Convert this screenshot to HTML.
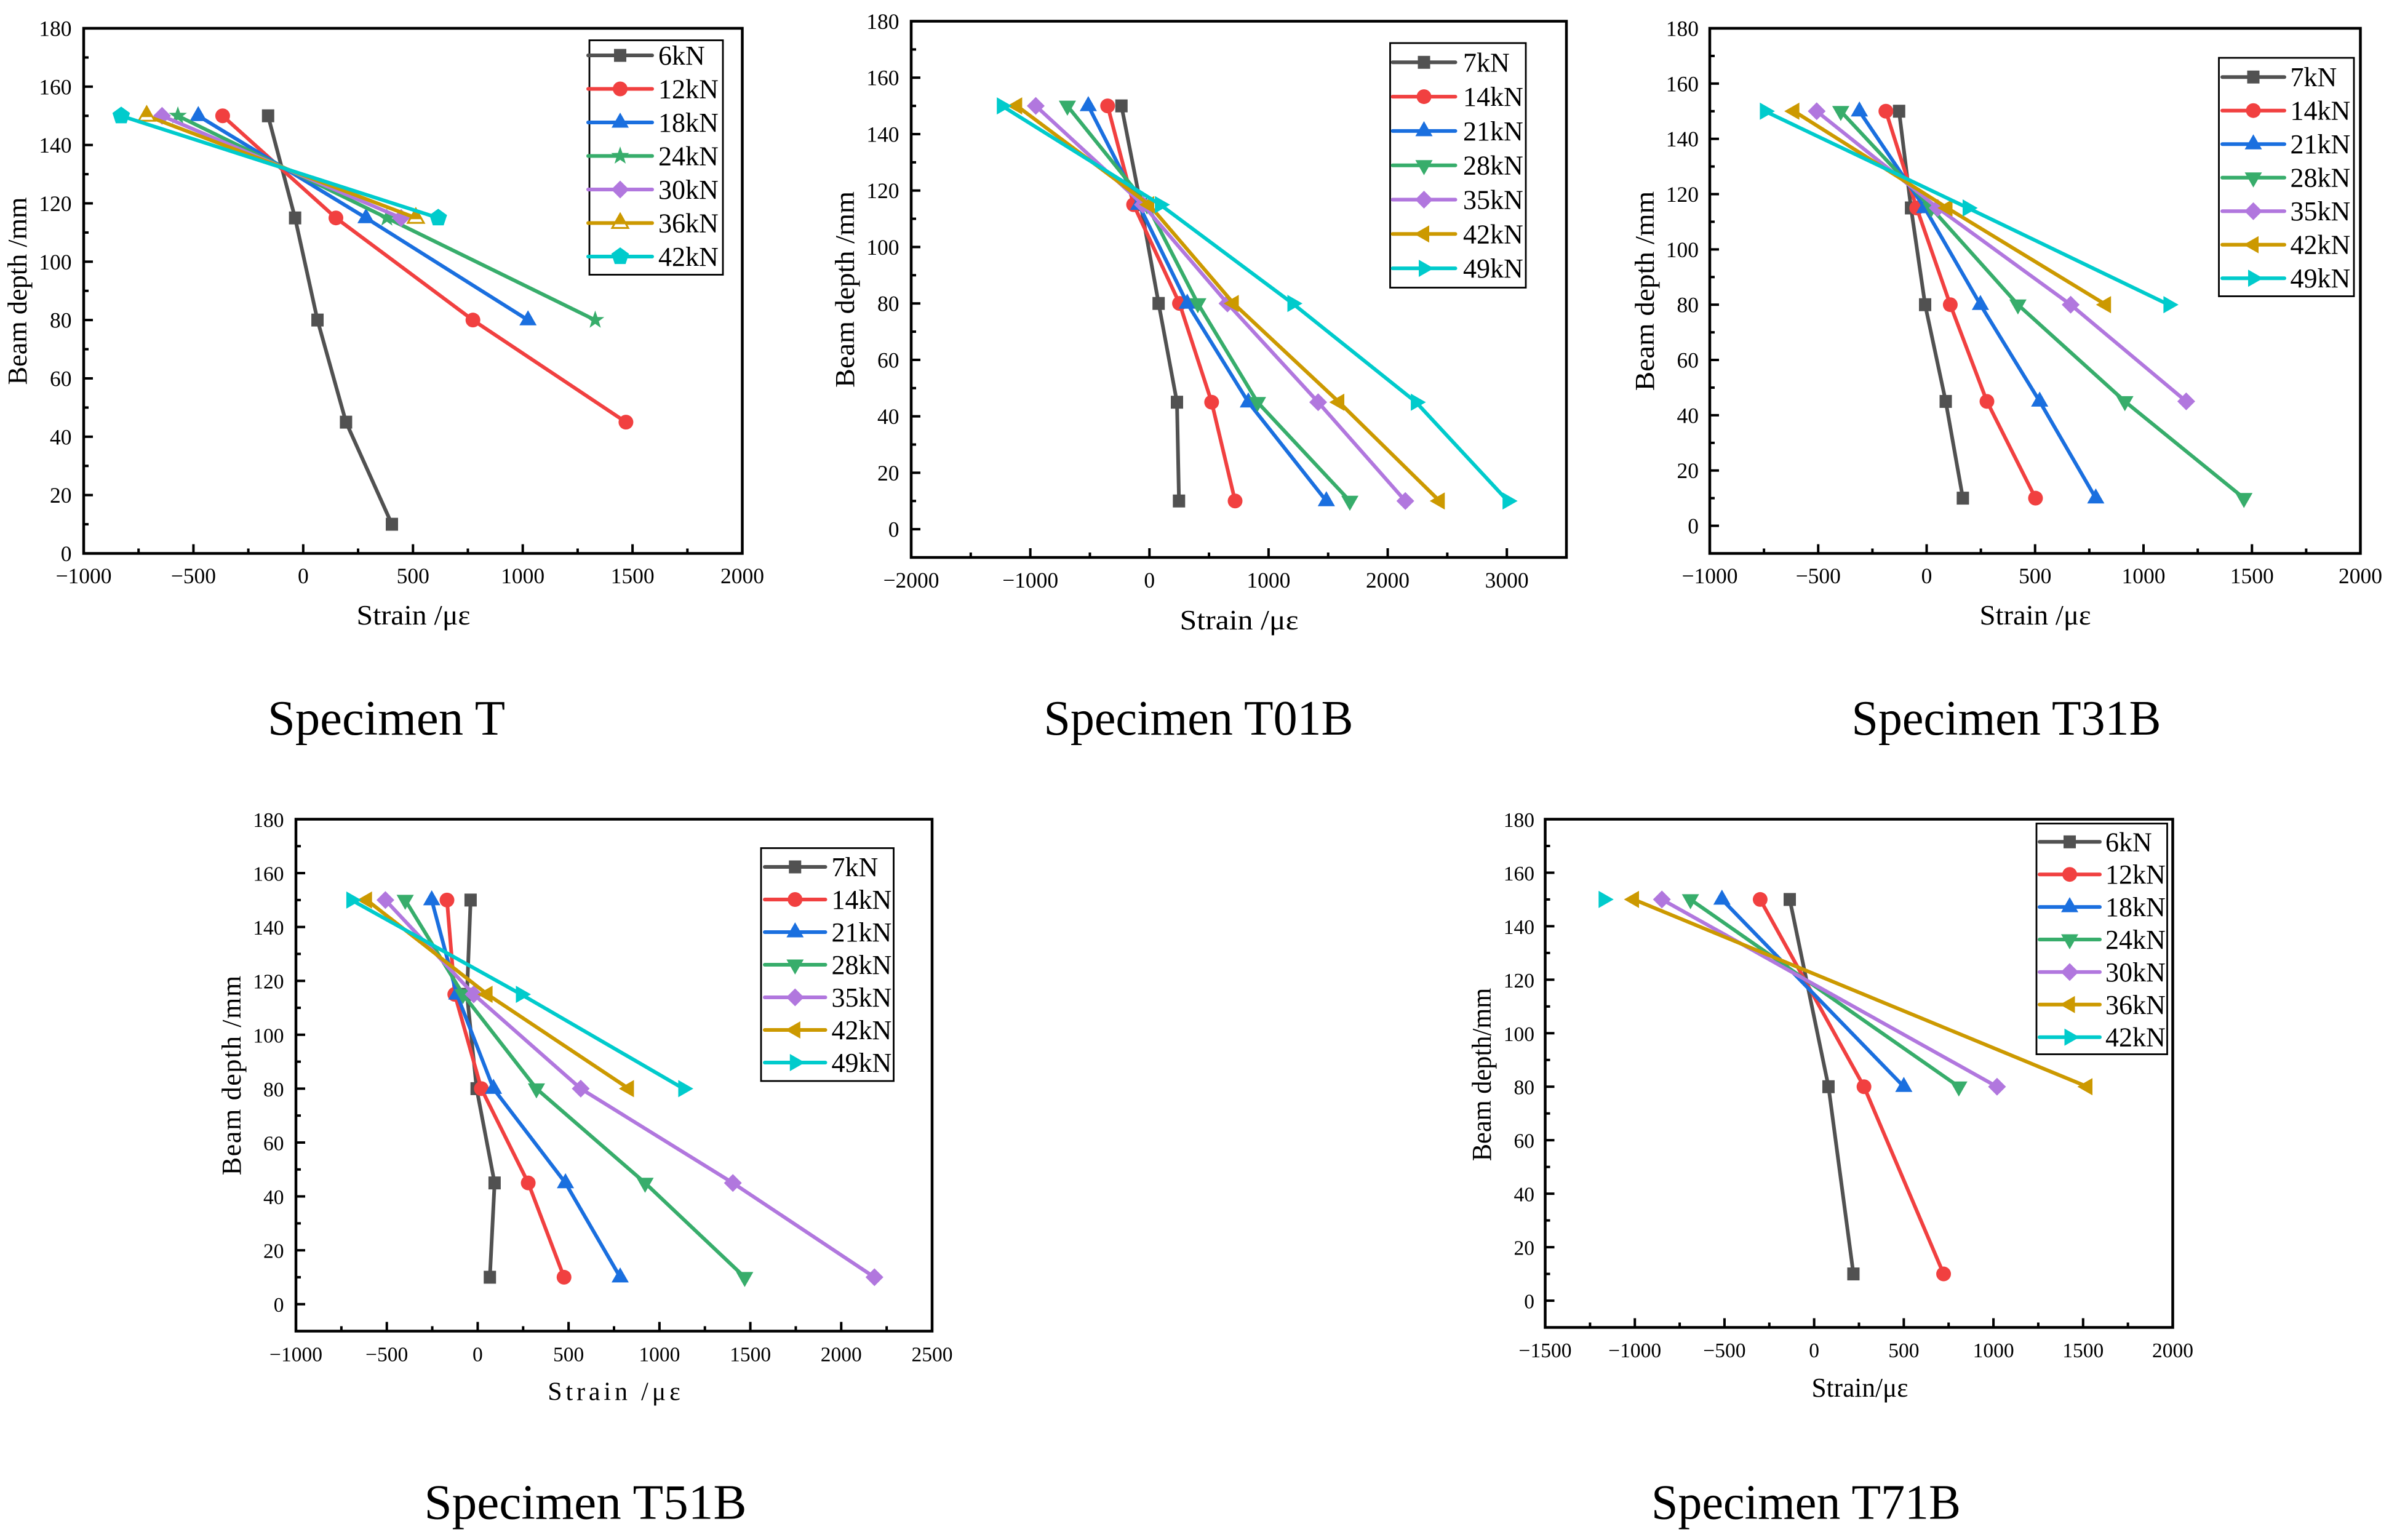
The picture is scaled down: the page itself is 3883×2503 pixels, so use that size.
<!DOCTYPE html>
<html lang="en">
<head>
<meta charset="utf-8">
<title>Strain distribution along beam depth</title>
<style>
html,body{margin:0;padding:0;background:#fff;}
svg{display:block;}
text{font-family:"Liberation Serif","DejaVu Serif",serif;fill:#000;}
</style>
</head>
<body>
<svg id="figure" xmlns="http://www.w3.org/2000/svg" width="3883" height="2503" viewBox="0 0 3883 2503"></svg>
<script>
/* Shared depths (mm) */
const depthLevels = [150, 115, 80, 45, 10];
const yTickLabels = [0, 20, 40, 60, 80, 100, 120, 140, 160, 180];

/* Specimen T */
const tLoads = ['6kN', '12kN', '18kN', '24kN', '30kN', '36kN', '42kN'];
const tStrain6 = [-160, -37, 65, 195, 404];
const tStrain12 = [-367, 149, 773, 1470];
const tStrain18 = [-478, 286, 1024];
const tStrain24 = [-571, 381, 1330];
const tStrain30 = [-643, 446];
const tStrain36 = [-713, 513];
const tStrain42 = [-829, 615];
const tXTicks = [-1000, -500, 0, 500, 1000, 1500, 2000];

/* Specimen T01B */
const t01Loads = ['7kN', '14kN', '21kN', '28kN', '35kN', '42kN', '49kN'];
const t01Strain7 = [-235, -73, 77, 231, 248];
const t01Strain14 = [-351, -133, 252, 522, 719];
const t01Strain21 = [-513, -90, 317, 830, 1485];
const t01Strain28 = [-689, -21, 406, 907, 1682];
const t01Strain35 = [-954, -55, 655, 1416, 2148];
const t01Strain42 = [-1112, -4, 706, 1592, 2435];
const t01Strain49 = [-1237, 90, 1202, 2238, 3008];
const t01XTicks = [-2000, -1000, 0, 1000, 2000, 3000];

/* Specimen T31B */
const t31Loads = ['7kN', '14kN', '21kN', '28kN', '35kN', '42kN', '49kN'];
const t31Strain7 = [-127, -72, -7, 88, 167];
const t31Strain14 = [-188, -46, 109, 278, 502];
const t31Strain21 = [-310, -9, 248, 521, 780];
const t31Strain28 = [-396, 21, 421, 914, 1463];
const t31Strain35 = [-507, 51, 664, 1197];
const t31Strain42 = [-611, 95, 826];
const t31Strain49 = [-745, 190, 1116];
const t31XTicks = [-1000, -500, 0, 500, 1000, 1500, 2000];

/* Specimen T51B */
const t51Loads = ['7kN', '14kN', '21kN', '28kN', '35kN', '42kN', '49kN'];
const t51Strain7 = [-39, -59, -6, 93, 67];
const t51Strain14 = [-169, -126, 20, 278, 475];
const t51Strain21 = [-253, -115, 87, 483, 784];
const t51Strain28 = [-399, -81, 323, 921, 1469];
const t51Strain35 = [-508, -22, 567, 1404, 2183];
const t51Strain42 = [-610, 53, 831];
const t51Strain49 = [-694, 239, 1132];
const t51XTicks = [-1000, -500, 0, 500, 1000, 1500, 2000, 2500];

/* Specimen T71B (only depths 150 / 80 / 10 were measured) */
const t71Depths = [150, 80, 10];
const t71Loads = ['6kN', '12kN', '18kN', '24kN', '30kN', '36kN', '42kN'];
const t71Strain6 = [-136, 80, 219];
const t71Strain12 = [-301, 278, 722];
const t71Strain18 = [-514, 500];
const t71Strain24 = [-690, 807];
const t71Strain30 = [-849, 1020];
const t71Strain36 = [-1006, 1523];
const t71Strain42 = [-1173];
const t71XTicks = [-1500, -1000, -500, 0, 500, 1000, 1500, 2000];

const seriesColors = ['#515151', '#F14040', '#1A6FDF', '#37AD6B', '#B177DE', '#CC9900', '#00CBCC'];
const markersA = ['square', 'circle', 'up', 'star', 'diamond', 'halfup', 'pentagon'];
const markersB = ['square', 'circle', 'up', 'down', 'diamond', 'left', 'right'];

const panels = [
  { id: 't', title: 'Specimen T', depths: depthLevels, loads: tLoads, markers: markersA,
    strains: [tStrain6, tStrain12, tStrain18, tStrain24, tStrain30, tStrain36, tStrain42],
    xTicks: tXTicks, xMin: -1000, xMax: 2000, yMin: 0, yMax: 180,
    box: [136, 46, 1206.5, 899.5], tickSize: 35.5, labelBase: 948, yLabelRight: 116.5,
    xTitle: 'Strain /με', xTitleSize: 46, xTitleAdjust: 'spacingAndGlyphs', xTitleAt: [672, 1015, 185], yTitle: 'Beam depth /mm', yTitleAdjust: 'spacingAndGlyphs', yTitleAt: [43, 473, 305],
    titleAt: [628, 1194, 386], legend: [958, 65.5, 1175, 446.5, 90, 54.5, 956, 1060, 1070] },
  { id: 't01b', title: 'Specimen T01B', depths: depthLevels, loads: t01Loads, markers: markersB,
    strains: [t01Strain7, t01Strain14, t01Strain21, t01Strain28, t01Strain35, t01Strain42, t01Strain49],
    xTicks: t01XTicks, xMin: -2000, xMax: 3500, yMin: -10, yMax: 180,
    box: [1481, 34.5, 2546, 906], tickSize: 35.5, labelBase: 955, yLabelRight: 1461.5,
    xTitle: 'Strain  /με', xTitleSize: 46, xTitleAdjust: 'spacingAndGlyphs', xTitleAt: [2014, 1023, 193], yTitle: 'Beam depth  /mm', yTitleAdjust: 'spacingAndGlyphs', yTitleAt: [1388, 470.5, 319],
    titleAt: [1948, 1194, 503], legend: [2259.5, 70, 2480, 467.5, 101.3, 55.8, 2263.5, 2365.5, 2378] },
  { id: 't31b', title: 'Specimen T31B', depths: depthLevels, loads: t31Loads, markers: markersB,
    strains: [t31Strain7, t31Strain14, t31Strain21, t31Strain28, t31Strain35, t31Strain42, t31Strain49],
    xTicks: t31XTicks, xMin: -1000, xMax: 2000, yMin: -10, yMax: 180,
    box: [2779, 46, 3836.5, 899.5], tickSize: 35.5, labelBase: 948, yLabelRight: 2761,
    xTitle: 'Strain /με', xTitleSize: 46, xTitleAdjust: 'spacingAndGlyphs', xTitleAt: [3308, 1015, 181], yTitle: 'Beam depth  /mm', yTitleAdjust: 'spacingAndGlyphs', yTitleAt: [2688, 473, 324.5],
    titleAt: [3261, 1194, 503], legend: [3606.5, 94, 3826, 481.5, 125.2, 54.5, 3612, 3713, 3722.5] },
  { id: 't51b', title: 'Specimen  T51B', depths: depthLevels, loads: t51Loads, markers: markersB,
    strains: [t51Strain7, t51Strain14, t51Strain21, t51Strain28, t51Strain35, t51Strain42, t51Strain49],
    xTicks: t51XTicks, xMin: -1000, xMax: 2500, yMin: -10, yMax: 180,
    box: [481, 1331.5, 1515, 2163.5], tickSize: 33.5, labelBase: 2212.5, yLabelRight: 461.5,
    xTitle: 'Strain /με', xTitleSize: 42, xTitleAdjust: 'spacing', xTitleAt: [998, 2275.5, 215.5], yTitle: 'Beam depth /mm', yTitleAdjust: 'spacing', yTitleAt: [391, 1748, 324.5],
    titleAt: [951.5, 2468.5, 524], legend: [1237, 1378.5, 1452.5, 1757, 1409, 53, 1243, 1341.5, 1351.5] },
  { id: 't71b', title: 'Specimen T71B', depths: t71Depths, loads: t71Loads, markers: markersB,
    strains: [t71Strain6, t71Strain12, t71Strain18, t71Strain24, t71Strain30, t71Strain36, t71Strain42],
    xTicks: t71XTicks, xMin: -1500, xMax: 2000, yMin: -10, yMax: 180,
    box: [2511.5, 1331.5, 3531.5, 2157.5], tickSize: 33.5, labelBase: 2206, yLabelRight: 2494,
    xTitle: 'Strain/με', xTitleSize: 44, xTitleAdjust: 'spacingAndGlyphs', xTitleAt: [3023, 2270, 157], yTitle: 'Beam depth/mm', yTitleAdjust: 'spacingAndGlyphs', yTitleAt: [2423, 1746.5, 281.5],
    titleAt: [2935.5, 2468.5, 503], legend: [3310, 1338.5, 3522.5, 1713.5, 1368.3, 52.9, 3315, 3413, 3422] }
];

const NS = 'http://www.w3.org/2000/svg';
const figure = document.getElementById('figure');

function make(tag, parent, attrs) {
  const node = document.createElementNS(NS, tag);
  Object.keys(attrs).forEach(function (k) { node.setAttribute(k, attrs[k]); });
  parent.appendChild(node);
  return node;
}

function polyPoints(cx, cy, pts) {
  return pts.map(function (p) { return (cx + p[0]).toFixed(1) + ',' + (cy + p[1]).toFixed(1); }).join(' ');
}

function regular(n, r, inner) {
  const pts = [];
  const count = inner ? n * 2 : n;
  for (let i = 0; i < count; i++) {
    const a = -Math.PI / 2 + i * 2 * Math.PI / count;
    const rad = inner && i % 2 ? inner : r;
    pts.push([rad * Math.cos(a), rad * Math.sin(a)]);
  }
  return pts;
}

const shapes = {
  up: [[0, -16], [14, 8.5], [-14, 8.5]],
  down: [[0, 16], [14, -8.5], [-14, -8.5]],
  left: [[-16, 0], [8.5, -14], [8.5, 14]],
  right: [[16, 0], [-8.5, -14], [-8.5, 14]],
  diamond: [[0, -14.5], [14.5, 0], [0, 14.5], [-14.5, 0]],
  pentagon: regular(5, 15),
  star: regular(5, 15.5, 6.2)
};

function drawMarker(group, kind, cx, cy, color) {
  let el;
  if (kind === 'square') {
    el = make('rect', group, { x: cx - 10, y: cy - 10.5, width: 20, height: 21, fill: color });
  } else if (kind === 'circle') {
    el = make('circle', group, { cx: cx, cy: cy, r: 12, fill: color });
  } else if (kind === 'halfup') {
    el = make('polygon', group, { points: polyPoints(cx, cy, [[0, -15], [13, 8], [-13, 8]]), fill: '#fff', stroke: color, 'stroke-width': 3 });
    const cap = make('polygon', group, { points: polyPoints(cx, cy, [[0, -15], [9.6, 2], [-9.6, 2]]), fill: color });
    
    
  } else {
    el = make('polygon', group, { points: polyPoints(cx, cy, shapes[kind]), fill: color });
  }
  
  
}

function label(v) { return v < 0 ? '\u2212' + Math.abs(v) : String(v); }

panels.forEach(function (p) {
  const g = make('g', figure, {});
  
  

  const left = p.box[0], top = p.box[1], right = p.box[2], bottom = p.box[3];
  const xScale = function (v) { return left + (v - p.xMin) / (p.xMax - p.xMin) * (right - left); };
  const yScale = function (v) { return bottom - (v - p.yMin) / (p.yMax - p.yMin) * (bottom - top); };

  /* series */
  const plot = make('g', g, {});
  
  
  p.strains.forEach(function (values, i) {
    const color = seriesColors[i];
    const sg = make('g', plot, {});
    
    
    const pts = values.map(function (v, k) { return xScale(v).toFixed(1) + ',' + yScale(p.depths[k]).toFixed(1); }).join(' ');
    const line = make('polyline', sg, { points: pts, fill: 'none', stroke: color, 'stroke-width': 6, 'stroke-linejoin': 'round' });
    
    
    values.forEach(function (v, k) {
      drawMarker(sg, p.markers[i], xScale(v), yScale(p.depths[k]), color);
    });
  });

  /* frame */
  const frame = make('rect', g, { x: left, y: top, width: right - left, height: bottom - top, fill: 'none', stroke: '#000', 'stroke-width': 4.5 });
  
  

  /* x ticks */
  const xAxis = make('g', g, {});
  
  
  p.xTicks.forEach(function (v, i) {
    const x = xScale(v);
    const t = make('line', xAxis, { x1: x, x2: x, y1: bottom, y2: bottom - 15, stroke: '#000', 'stroke-width': 4 });
    
    
    const txt = make('text', xAxis, { x: x, y: p.labelBase, 'text-anchor': 'middle', 'font-size': p.tickSize });
    txt.textContent = label(v);
    
    
    const step = p.xTicks[1] - p.xTicks[0];
    const mid = v + step / 2;
    if (mid < p.xMax) {
      const m = make('line', xAxis, { x1: xScale(mid), x2: xScale(mid), y1: bottom, y2: bottom - 8, stroke: '#000', 'stroke-width': 4 });
      
      
    }
  });

  /* y ticks */
  const yAxis = make('g', g, {});
  
  
  yTickLabels.forEach(function (v, i) {
    const y = yScale(v);
    const t = make('line', yAxis, { x1: left, x2: left + 15, y1: y, y2: y, stroke: '#000', 'stroke-width': 4 });
    
    
    const txt = make('text', yAxis, { x: p.yLabelRight, y: y + 12.5, 'text-anchor': 'end', 'font-size': p.tickSize });
    txt.textContent = label(v);
    
    
    if (v < p.yMax) {
      const m = make('line', yAxis, { x1: left, x2: left + 8, y1: yScale(v + 10), y2: yScale(v + 10), stroke: '#000', 'stroke-width': 4 });
      
      
    }
  });

  /* axis titles */
  const xt = make('text', g, { x: p.xTitleAt[0], y: p.xTitleAt[1], 'text-anchor': 'middle', 'font-size': p.xTitleSize, textLength: p.xTitleAt[2], lengthAdjust: p.xTitleAdjust, 'xml:space': 'preserve' });
  xt.textContent = p.xTitle;
  
  

  const yt = make('text', g, { transform: 'translate(' + p.yTitleAt[0] + ',' + p.yTitleAt[1] + ') rotate(-90)', 'text-anchor': 'middle', 'font-size': 44, textLength: p.yTitleAt[2], lengthAdjust: p.yTitleAdjust, 'xml:space': 'preserve' });
  yt.textContent = p.yTitle;
  
  

  /* specimen caption */
  const cap = make('text', g, { x: p.titleAt[0], y: p.titleAt[1], 'text-anchor': 'middle', 'font-size': 80, textLength: p.titleAt[2], lengthAdjust: 'spacingAndGlyphs', 'xml:space': 'preserve' });
  cap.textContent = p.title;
  
  

  /* legend */
  const L = p.legend;
  const lg = make('g', g, {});
  
  
  const lbox = make('rect', lg, { x: L[0], y: L[1], width: L[2] - L[0], height: L[3] - L[1], fill: '#fff', stroke: '#000', 'stroke-width': 2.8 });
  
  
  p.loads.forEach(function (name, i) {
    const ry = L[4] + i * L[5];
    const cx = (L[6] + L[7]) / 2;
    const entry = make('g', lg, {});
    
    
    const sw = make('line', entry, { x1: L[6], x2: L[7], y1: ry, y2: ry, stroke: seriesColors[i], 'stroke-width': 6, 'stroke-linecap': 'round' });
    
    
    drawMarker(entry, p.markers[i], cx, ry, seriesColors[i]);
    const txt = make('text', entry, { x: L[8], y: ry + 15, 'font-size': 44 });
    txt.textContent = name;
    
    
  });
});
</script>
</body>
</html>
